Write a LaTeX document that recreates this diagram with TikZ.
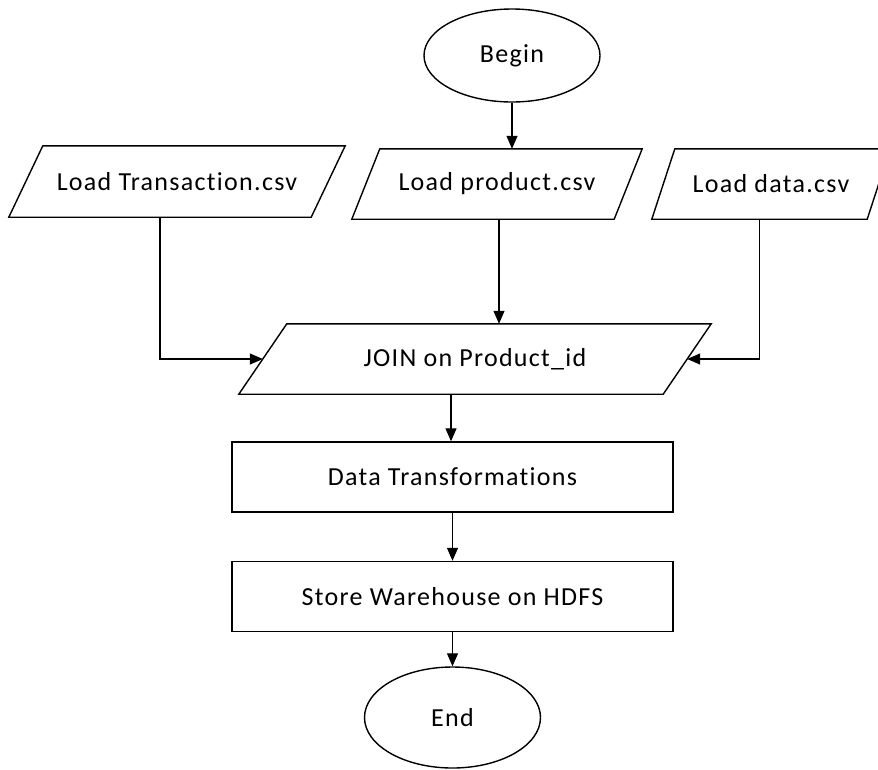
\documentclass[tikz,border=0pt]{standalone}
\usepackage{fontspec}
\setmainfont[LetterSpace=5,Ligatures=NoCommon]{Carlito}
\usetikzlibrary{shapes.geometric,arrows.meta,calc}
\newcommand\drawpara[2]{%
  \draw[line width=1.4pt,black,line join=miter]
    ($(#1.north west)+(#2/2,0)$) -- ($(#1.north east)+(#2/2,0)$) --
    ($(#1.south east)-(#2/2,0)$) -- ($(#1.south west)-(#2/2,0)$) -- cycle;}
\begin{document}
\begin{tikzpicture}[x=1pt,y=-1pt,
  base/.style={inner sep=0pt,font=\fontsize{26}{30}\selectfont,text=black},
  term/.style={base,draw=black,line width=1.4pt,ellipse,minimum width=176pt},
  io/.style={base,rectangle,minimum height=70pt},
  proc/.style={base,draw=black,line width=1.4pt,rectangle,minimum width=441pt,minimum height=70pt},
  arr/.style={draw=black,line width=1.2pt,-{Triangle[length=13pt,width=11pt]}}]
\useasboundingbox[fill=white] (0,0) rectangle (878,769);
\node[term,minimum height=93pt] (begin) at (512,55.5) {Begin};
\node[io,minimum width=302pt,minimum height=71pt] (trans) at (177,181.5) {Load Transaction.csv};
\node[io,minimum width=262pt] (prod) at (497,184) {Load product.csv};
\node[io,minimum width=215pt] (data) at (771,184) {Load data.csv};
\node[io,minimum width=424pt] (join) at (475,359) {JOIN on Product\_id};
\drawpara{trans}{34}
\drawpara{prod}{28}
\drawpara{data}{23}
\drawpara{join}{48}
\node[proc] (dt) at (452.5,477) {Data Transformations};
\node[proc] (st) at (452.5,596.5) {Store Warehouse on HDFS};
\node[term,minimum height=101pt] (end) at (452.5,717.5) {End};
\coordinate (prodtop) at ($(prod.north)+(14,0)$);
\coordinate (transbot) at ($(trans.south)-(17,0)$);
\coordinate (databot) at ($(data.south)-(11.5,0)$);
\coordinate (jointop) at ($(join.north)+(24,0)$);
\coordinate (joinbot) at ($(join.south)-(24,0)$);
\draw[arr] (begin.south) -- (begin.south |- prodtop);
\draw[arr] (transbot) |- (join.west);
\draw[arr] (jointop |- prod.south) -- (jointop);
\draw[arr] (databot) |- (join.east);
\draw[arr] (joinbot) -- (joinbot |- dt.north);
\draw[arr] (dt.south) -- (st.north);
\draw[arr] (st.south) -- (end.north);
\end{tikzpicture}
\end{document}
